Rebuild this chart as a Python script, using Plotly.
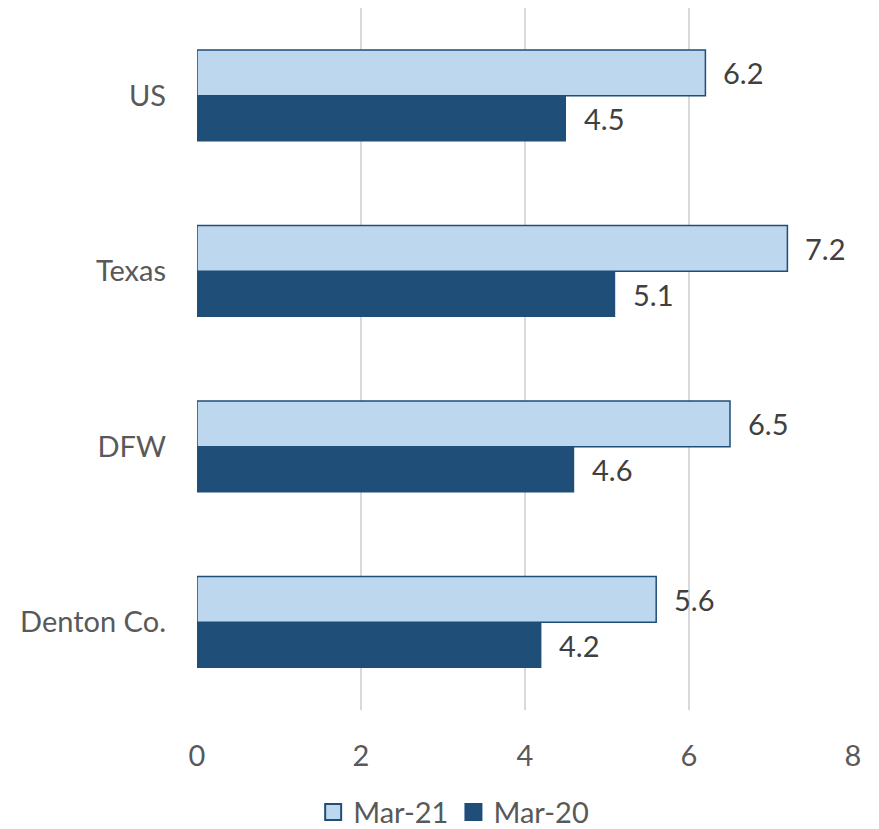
import plotly.graph_objects as go

categories = ["US", "Texas", "DFW", "Denton Co."]
mar21 = [6.2, 7.2, 6.5, 5.6]
mar20 = [4.5, 5.1, 4.6, 4.2]
x_ticks = [0, 2, 4, 6, 8]

FONT = "Lato, Open Sans, sans-serif"
FS = 29
LIGHT = "#BDD7EE"
DARK = "#1F4E79"

fig = go.Figure()
fig.add_trace(go.Bar(name="Mar-21", y=categories, x=mar21, orientation="h", showlegend=False,
                     marker=dict(color=LIGHT, line=dict(color=DARK, width=1.5))))
fig.add_trace(go.Bar(name="Mar-20", y=categories, x=mar20, orientation="h", showlegend=False,
                     marker=dict(color=DARK, line=dict(color=DARK, width=0))))
# legend-only entries with large square swatches
fig.add_trace(go.Scatter(name="Mar-21", x=[None], y=[None], mode="markers",
                         marker=dict(symbol="square", size=20, color=LIGHT,
                                     line=dict(color=DARK, width=2))))
fig.add_trace(go.Scatter(name="Mar-20", x=[None], y=[None], mode="markers",
                         marker=dict(symbol="square", size=20, color=DARK,
                                     line=dict(color=DARK, width=2))))

annotations = []
for i, c in enumerate(categories):
    for val, shift in ((mar21[i], 23), (mar20[i], -23)):
        annotations.append(dict(x=val, y=c, text=f"{val:.1f}", showarrow=False,
                                xanchor="left", xshift=16, yshift=shift,
                                font=dict(family=FONT, size=FS, color="#404040")))

fig.update_layout(
    width=879, height=829,
    margin=dict(l=189, r=34, t=0, b=127),
    paper_bgcolor="white", plot_bgcolor="white",
    barmode="group", bargap=0.48, bargroupgap=0,
    font=dict(family=FONT, size=FS, color="#595959"),
    showlegend=True,
    legend=dict(orientation="h", xref="container", x=0.507, xanchor="center",
                yref="container", y=0.03, yanchor="middle",
                font=dict(family=FONT, size=FS, color="#595959"),
                traceorder="normal", itemwidth=30, itemsizing="trace"),
    annotations=annotations,
)
fig.update_xaxes(range=[0, 8], tickvals=x_ticks, showgrid=True, gridcolor="#D9D9D9",
                 gridwidth=1.5, zeroline=False, showline=False, automargin=False,
                 ticklabelstandoff=26, tickfont=dict(size=FS, color="#595959"))
fig.update_yaxes(autorange="reversed", showgrid=False, showline=False, automargin=False,
                 ticklabelstandoff=30, tickfont=dict(size=FS, color="#595959"))

fig.write_html("out.html")
